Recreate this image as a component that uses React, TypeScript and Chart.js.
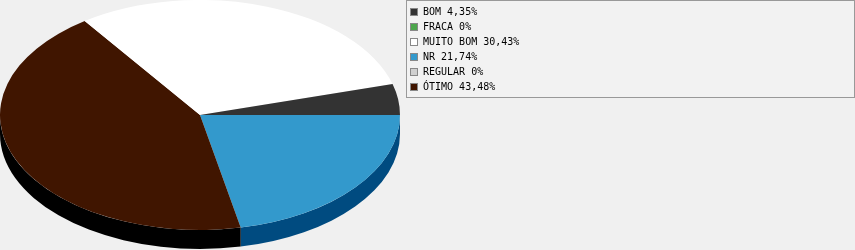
import React, { useEffect, useRef } from "react";
import { Chart, registerables } from "chart.js";

Chart.register(...registerables);

// ---- Data ----
const categories = ["BOM", "FRACA", "MUITO BOM", "NR", "REGULAR", "ÓTIMO"];
const percentages = [4.35, 0, 30.43, 21.74, 0, 43.48];
const topColors = ["#333333", "#4da64d", "#ffffff", "#3399cc", "#d0d0d0", "#401500"];
const sideColors = ["#111111", "#2d6b2d", "#b0b0b0", "#004b80", "#909090", "#000000"];
// order in which slices are laid clockwise, starting at 3 o'clock
const pieOrder = [3, 5, 4, 2, 1, 0];

const RX = 200; // horizontal radius of the tilted pie
const DEPTH = 19; // thickness of the pie side

const fmtPct = (v: number) => (v === 0 ? "0%" : v.toFixed(2).replace(".", ",") + "%");

const pie3dPlugin = {
  id: "pie3d",
  beforeDatasetsDraw(chart: any) {
    const ctx = chart.ctx as CanvasRenderingContext2D;
    const arcs = chart.getDatasetMeta(0).data as any[];
    if (!arcs.length) return;
    const cx = arcs[0].x;
    const cy = arcs[0].y;
    const r = arcs[0].outerRadius;
    const sx = RX / r;
    ctx.save();
    ctx.translate(cx, cy);
    ctx.scale(sx, 1);
    arcs.forEach((arc: any, i: number) => {
      const s = Math.max(arc.startAngle, 0);
      const e = Math.min(arc.endAngle, Math.PI);
      if (e <= s) return;
      const col = sideColors[pieOrder[i]];
      ctx.beginPath();
      ctx.arc(0, 0, r, s, e);
      ctx.arc(0, DEPTH, r, e, s, true);
      ctx.closePath();
      ctx.fillStyle = col;
      ctx.fill();
    });
    ctx.restore();
    ctx.save();
    ctx.translate(cx, 0);
    ctx.scale(sx, 1);
    ctx.translate(-cx, 0);
  },
  afterDatasetsDraw(chart: any) {
    chart.ctx.restore();
  },
  afterDraw(chart: any) {
    const ctx = chart.ctx as CanvasRenderingContext2D;
    ctx.save();
    ctx.fillStyle = "#f2f2f2";
    ctx.fillRect(406, 0, 449, 98);
    ctx.strokeStyle = "#999999";
    ctx.lineWidth = 1;
    ctx.strokeRect(406.5, 0.5, 448, 97);
    ctx.font = '10px "DejaVu Sans Mono", monospace';
    ctx.textBaseline = "middle";
    ctx.textAlign = "left";
    categories.forEach((c, i) => {
      const yc = 12 + i * 14.9;
      const top = Math.round(yc - 4);
      ctx.fillStyle = topColors[i];
      ctx.fillRect(410, top, 8, 8);
      ctx.strokeStyle = "#888888";
      ctx.strokeRect(410.5, top + 0.5, 7, 7);
      ctx.fillStyle = "#000000";
      ctx.fillText(`${c} ${fmtPct(percentages[i])}`, 423, Math.round(yc) + 0.5);
    });
    ctx.restore();
  },
};

export default function App() {
  const ref = useRef<HTMLCanvasElement | null>(null);
  useEffect(() => {
    if (!ref.current) return;
    const chart = new Chart(ref.current, {
      type: "pie",
      data: {
        labels: pieOrder.map((i) => categories[i]),
        datasets: [
          {
            data: pieOrder.map((i) => percentages[i]),
            backgroundColor: pieOrder.map((i) => topColors[i]),
            borderWidth: 0,
            hoverOffset: 0,
            offset: 0,
            clip: false as any,
          },
        ],
      },
      options: {
        responsive: false,
        animation: false,
        devicePixelRatio: 1,
        events: [],
        rotation: 90,
        layout: { padding: { left: 0, top: 0, right: 455, bottom: 20 } },
        plugins: {
          legend: { display: false },
          tooltip: { enabled: false },
          title: { display: false },
        },
      } as any,
      plugins: [pie3dPlugin as any],
    });
    return () => chart.destroy();
  }, []);
  return (
    <div
      style={{
        position: "absolute",
        left: 0,
        top: 0,
        width: 855,
        height: 250,
        background: "#f0f0f0",
      }}
    >
      <canvas ref={ref} width={855} height={250} style={{ display: "block" }} />
    </div>
  );
}
